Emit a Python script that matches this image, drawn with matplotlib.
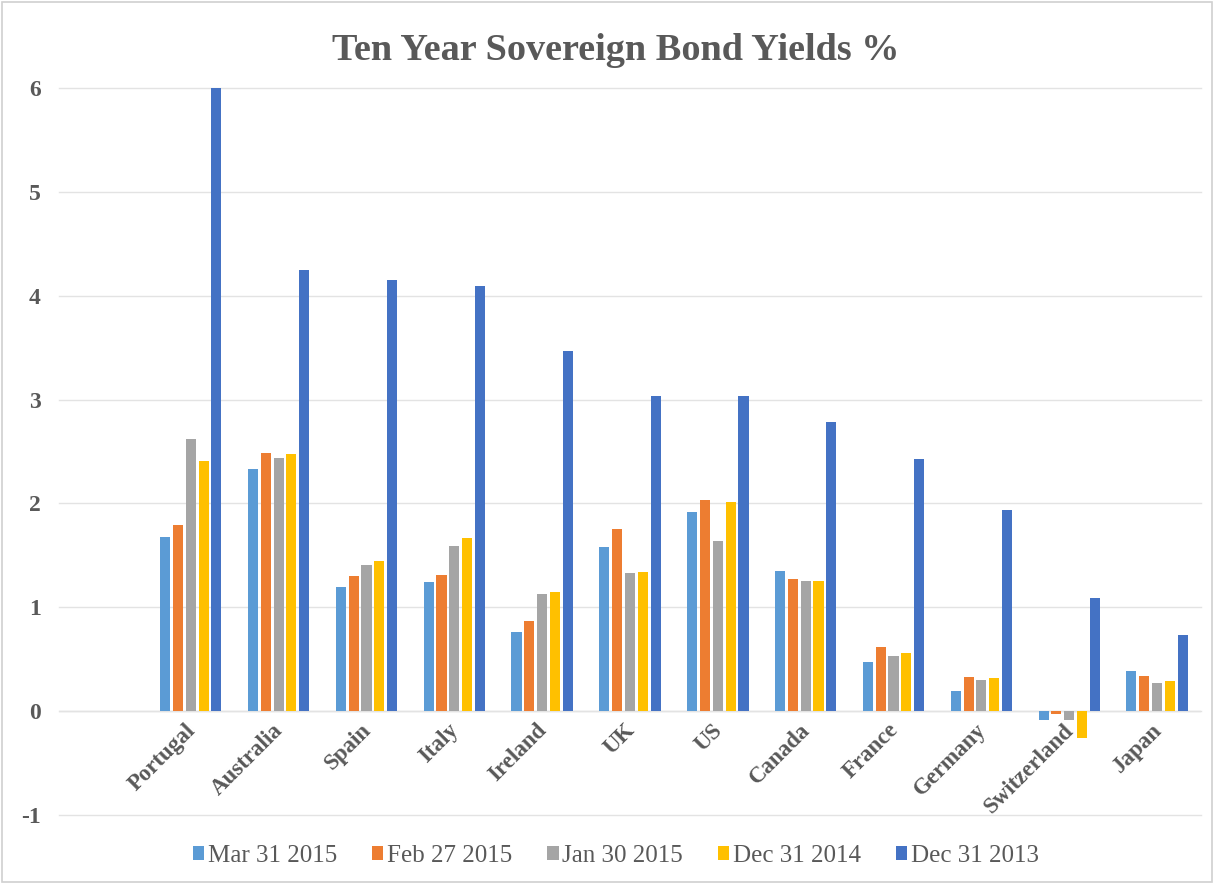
import matplotlib
matplotlib.use("Agg")
import matplotlib.pyplot as plt
from matplotlib.patches import Rectangle
import numpy as np

countries = ["Portugal", "Australia", "Spain", "Italy", "Ireland", "UK", "US",
             "Canada", "France", "Germany", "Switzerland", "Japan"]
series_names = ["Mar 31 2015", "Feb 27 2015", "Jan 30 2015", "Dec 31 2014", "Dec 31 2013"]

mar_2015 = [1.68, 2.33, 1.20, 1.24, 0.76, 1.58, 1.92, 1.35, 0.47, 0.19, -0.09, 0.39]
feb_2015 = [1.79, 2.49, 1.30, 1.31, 0.87, 1.75, 2.03, 1.27, 0.62, 0.33, -0.03, 0.34]
jan_2015 = [2.62, 2.44, 1.41, 1.59, 1.13, 1.33, 1.64, 1.25, 0.53, 0.30, -0.09, 0.27]
dec_2014 = [2.41, 2.48, 1.45, 1.67, 1.15, 1.34, 2.01, 1.25, 0.56, 0.32, -0.26, 0.29]
dec_2013 = [6.00, 4.25, 4.15, 4.09, 3.47, 3.03, 3.03, 2.78, 2.43, 1.94, 1.09, 0.73]

colors = ["#5B9BD5", "#ED7D31", "#A5A5A5", "#FFC000", "#4472C4"]
text_color = "#595959"

plt.rcParams["font.family"] = ["Liberation Serif", "DejaVu Serif"]
plt.rcParams["axes.unicode_minus"] = False

fig = plt.figure(figsize=(12.14, 8.84), dpi=100)
W, H = 1214, 884
ax = fig.add_axes([59 / W, 1 - 815 / H, (1201 - 59) / W, (815 - 88) / H])

x = np.arange(len(countries))
slot = 0.146
bar_w = 0.115
all_series = [mar_2015, feb_2015, jan_2015, dec_2014, dec_2013]
for i, (vals, name, c) in enumerate(zip(all_series, series_names, colors)):
    ax.bar(x + (i - 2) * slot, vals, width=bar_w, color=c, label=name, zorder=3)

ax.set_xlim(-1.5, 11.5)
ax.set_ylim(-1, 6)
ax.set_yticks(range(-1, 7))
ax.yaxis.grid(True, color="#E3E3E3", linewidth=1.0, zorder=0)
for gl in ax.get_ygridlines():
    gl.set_clip_on(False)
ax.axhline(0, color="#DDDDDD", linewidth=1.0, zorder=1)
for s in ax.spines.values():
    s.set_visible(False)
ax.tick_params(axis="both", length=0)
ax.tick_params(axis="y", pad=13)
for lbl in ax.get_yticklabels():
    lbl.set_fontsize(17)
    lbl.set_fontweight("bold")
    lbl.set_color(text_color)

ax.set_xticks([])
for xi, name in zip(x, countries):
    ax.annotate(name, xy=(xi, 0), xycoords=("data", "data"),
                xytext=(1, -11.5), textcoords="offset points",
                rotation=45, rotation_mode="anchor", ha="right", va="center",
                fontsize=16.5, fontweight="bold", color=text_color)

fig.text(616 / W, 1 - 50 / H, "Ten Year Sovereign Bond Yields %", ha="center", va="center",
         fontsize=27.5, fontweight="bold", color=text_color)

leg = fig.legend(loc="center", bbox_to_anchor=(616 / W, 1 - 856 / H), ncol=5, frameon=False,
                 fontsize=18, handlelength=0.45, handleheight=0.45, handletextpad=0.15,
                 columnspacing=1.4)
for t in leg.get_texts():
    t.set_color(text_color)

fig.patches.append(Rectangle((2 / W, 2 / H), 1 - 4 / W, 1 - 4 / H, transform=fig.transFigure,
                             fill=False, edgecolor="#D0D0D0", linewidth=1.2))

fig.savefig("out.png", dpi=100, facecolor="white")
